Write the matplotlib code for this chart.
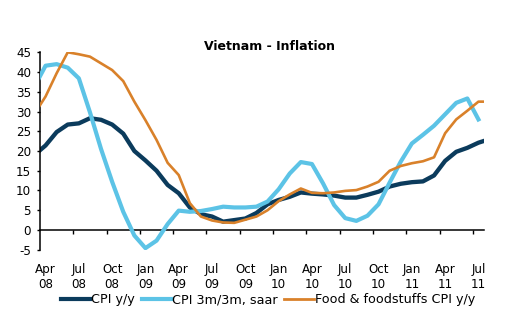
import numpy as np
import matplotlib
matplotlib.use("Agg")
import matplotlib.pyplot as plt
from matplotlib.lines import Line2D

# ========= DATA (monthly, Mar 08 .. Aug 11) =========
cpi_yy = [19.0, 21.4, 24.8, 26.7, 27.0, 28.3, 27.9, 26.7, 24.4, 20.0,
          17.6, 15.0, 11.4, 9.3, 5.7, 4.0, 3.4, 2.1, 2.5, 2.9, 4.3, 6.5,
          7.6, 8.4, 9.5, 9.2, 9.0, 8.7, 8.2, 8.2, 8.9, 9.7, 11.0, 11.7,
          12.1, 12.3, 13.8, 17.5, 19.8, 20.8, 22.1, 23.0]
food_yy = [29.4, 33.8, 39.7, 45.0, 44.5, 43.9, 42.2, 40.5, 37.7, 32.5,
           27.8, 22.8, 17.0, 13.9, 6.8, 3.4, 2.4, 1.9, 1.8, 2.6, 3.4, 5.0,
           7.3, 9.0, 10.5, 9.4, 9.3, 9.5, 9.9, 10.1, 11.0, 12.2, 15.0, 16.2,
           16.9, 17.4, 18.4, 24.5, 28.0, 30.2, 32.5, 32.5]
# 3m/3m saar ends in Jul 11
cpi_3m = [36.3, 41.6, 42.0, 41.1, 38.4, 29.8, 20.5, 12.2, 4.6, -1.4,
          -4.6, -2.7, 1.5, 4.9, 4.6, 4.8, 5.3, 5.9, 5.7, 5.7, 5.9, 7.2,
          10.3, 14.3, 17.2, 16.7, 11.8, 6.3, 3.0, 2.3, 3.6, 6.5, 12.0, 17.3,
          21.9, 24.1, 26.4, 29.3, 32.2, 33.3, 28.0]

tick_labels = ["Apr\n08", "Jul\n08", "Oct\n08", "Jan\n09", "Apr\n09", "Jul\n09",
               "Oct\n09", "Jan\n10", "Apr\n10", "Jul\n10", "Oct\n10", "Jan\n11",
               "Apr\n11", "Jul\n11"]
series_names = ["CPI y/y", "CPI 3m/3m, saar", "Food & foodstuffs CPI y/y"]

# ========= STYLE =========
DARK = "#0B3B5C"
LIGHT = "#5CC3E6"
ORANGE = "#D9812A"
FONT = "DejaVu Sans"

plt.rcParams["font.family"] = FONT
plt.rcParams["axes.unicode_minus"] = False

fig = plt.figure(figsize=(5.07, 3.21), dpi=100)
fig.patch.set_facecolor("white")
ax = fig.add_axes([0.0789, 0.2221, 0.8757, 0.615])

# month index 0 = Apr 08, data start one month earlier
x_long = np.arange(len(cpi_yy)) - 1
x_short = np.arange(len(cpi_3m)) - 1

ax.plot(x_long, cpi_yy, color=DARK, lw=3.1, solid_joinstyle="round", zorder=2)
ax.plot(x_short, cpi_3m, color=LIGHT, lw=3.0, solid_joinstyle="round", zorder=3)
ax.plot(x_long, food_yy, color=ORANGE, lw=1.9, solid_joinstyle="round", zorder=4)

ax.set_xlim(-0.5, 39.5)
ax.set_ylim(-5, 45)
ax.set_yticks(np.arange(-5, 46, 5))
ax.tick_params(axis="y", labelsize=8.6, length=2.5, width=1, pad=4, colors="black")

# x axis sits on the zero line, ticks between the labelled months
ax.spines["bottom"].set_position(("data", 0))
for s in ["top", "right"]:
    ax.spines[s].set_visible(False)
for s in ["left", "bottom"]:
    ax.spines[s].set_linewidth(1.1)
ax.set_xticks(np.arange(2.5, 40, 3))
ax.tick_params(axis="x", direction="out", length=3, width=1, labelbottom=False)

label_pos = np.arange(0, 40, 3)
for xp, lab in zip(label_pos, tick_labels):
    ax.text(xp, -0.065, lab, transform=ax.get_xaxis_transform(),
            ha="center", va="top", fontsize=8.6, linespacing=1.25)

fig.text(270 / 507, 1 - 46 / 321, "Vietnam - Inflation", ha="center", va="center",
         fontsize=9.0, fontweight="bold")

handles = [Line2D([], [], color=DARK, lw=3.0),
           Line2D([], [], color=LIGHT, lw=3.0),
           Line2D([], [], color=ORANGE, lw=2.0)]
fig.legend(handles, series_names, loc="center", bbox_to_anchor=(268 / 507, 1 - 300 / 321),
           ncol=3, frameon=False, fontsize=9.2, handlelength=2.3, handletextpad=0.1,
           columnspacing=0.5, borderaxespad=0, borderpad=0)

fig.savefig("out.png", dpi=100, facecolor="white")
